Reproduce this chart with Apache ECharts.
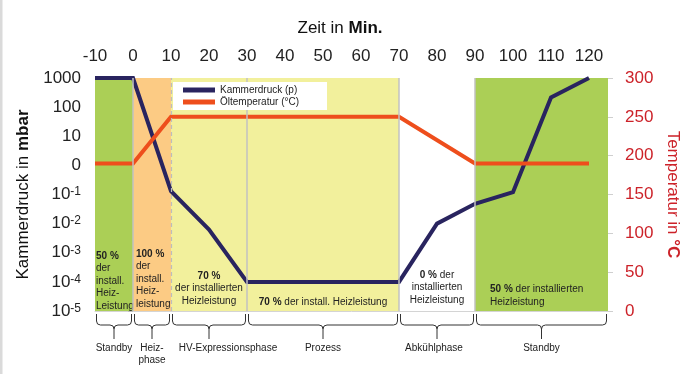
<!DOCTYPE html>
<html>
<head>
<meta charset="utf-8">
<script src="https://cdn.jsdelivr.net/npm/echarts@6/dist/echarts.min.js"></script>
<style>
  html, body { margin: 0; padding: 0; background: #fff; }
  #main { width: 680px; height: 374px; }
</style>
</head>
<body>
<div id="main"></div>
<script>
// Time axis (minutes) and the two measured curves
const pressureTime = [-10, 0, 10, 20, 30, 70, 80, 90, 100, 110, 120];
const pressureMbar = [1000, 1000, 0.13, 0.0063, 0.0001, 0.0001, 0.01, 0.048, 0.12, 215, 1000];
const tempTime = [-10, 0, 10, 70, 90, 120];
const tempC = [190, 190, 250, 250, 190, 190];

// Pressure axis tick labels, bottom to top ("^" marks the exponent)
const pressureTickLabels = ['10^-5', '10^-4', '10^-3', '10^-2', '10^-1', '0', '10', '100', '1000'];

// Process phases
const phaseStart = [-10, 0, 10, 30, 70, 90];
const phaseEnd = [0, 10, 30, 70, 90, 125];
const phaseNames = ['Standby', 'Heiz-\nphase', 'HV-Expressionsphase', 'Prozess', 'Abkühlphase', 'Standby'];
const phaseHeat = [
  '{p|50 %}\nder\ninstall.\nHeiz-\nLeistung',
  '{p|100 %}\nder\ninstall.\nHeiz-\nleistung',
  '{p|70 %}\nder installierten\nHeizleistung',
  '{p|70 %} der install. Heizleistung',
  '{p|0 %} der\ninstallierten\nHeizleistung',
  '{p|50 %} der installierten\nHeizleistung'
];

const FONT = 'Liberation Sans, Arial, Helvetica, sans-serif';
const NAVY = '#29245f';
const ORANGE = '#ee4e1c';
const RED = '#cc2229';
const GREEN = '#abcf56';
const PEACH = '#fccb84';
const YELLOW = '#f2f09c';

// Per-phase styling for the heat-share labels and the brace captions
const bandColors = [GREEN, PEACH, YELLOW, YELLOW, '#ffffff', GREEN];
const bandLabelStyle = [
  { position: 'insideBottomLeft', distance: 1, offset: [0, 2], align: 'left' },
  { position: 'insideBottomLeft', distance: 3, offset: [0, 2], align: 'left' },
  { position: 'insideBottom', distance: 4, offset: [0, 0], align: 'center' },
  { position: 'insideBottom', distance: 3, offset: [0, 0], align: 'center' },
  { position: 'insideBottom', distance: 5, offset: [0, 0], align: 'center' },
  { position: 'insideBottomLeft', distance: 3, offset: [12, 0], align: 'left' }
];
const captionShift = [0, 0, 19, 0, -3, 0];

const chart = echarts.init(document.getElementById('main'));

function pressureLabel(v) {
  const idx = Math.round(Math.log10(v)) + 5;
  const s = pressureTickLabels[idx];
  if (s === undefined) return '';
  const parts = s.split('^');
  return parts.length > 1 ? '{b|' + parts[0] + '}{s|' + parts[1] + '}' : '{b|' + parts[0] + '}';
}

function renderBrace(params, api) {
  const i = api.value(2);
  const a = api.coord([api.value(0), 0]);
  const b = api.coord([api.value(1), 0]);
  const x1 = a[0] + 1.5, x2 = b[0] - 1.5, xc = (x1 + x2) / 2;
  const base = a[1];
  const yTop = base + 3, yMid = base + 14, yBot = base + 28, r = 4;
  const d = [
    'M', x1, yTop, 'L', x1, yMid - r, 'Q', x1, yMid, x1 + r, yMid,
    'L', xc - r, yMid, 'Q', xc, yMid, xc, yMid + r, 'L', xc, yBot,
    'M', xc, yMid + r, 'Q', xc, yMid, xc + r, yMid,
    'L', x2 - r, yMid, 'Q', x2, yMid, x2, yMid - r, 'L', x2, yTop
  ].join(' ');
  return {
    type: 'group',
    children: [
      { type: 'path', shape: { pathData: d }, style: { fill: 'none', stroke: '#333', lineWidth: 1 } },
      {
        type: 'text', x: xc + captionShift[i], y: base + 31,
        style: {
          text: phaseNames[i], fontSize: 10, fontFamily: FONT, fill: '#222',
          align: 'center', verticalAlign: 'top', lineHeight: 12
        }
      }
    ]
  };
}

const bandData = phaseStart.map((s, i) => [
  {
    xAxis: s,
    name: phaseHeat[i],
    itemStyle: { color: bandColors[i], opacity: 1 },
    label: {
      show: true,
      position: bandLabelStyle[i].position,
      distance: bandLabelStyle[i].distance,
      offset: bandLabelStyle[i].offset,
      align: bandLabelStyle[i].align,
      fontSize: 10, fontFamily: FONT, color: '#222', lineHeight: 12.4,
      rich: { p: { fontSize: 10, fontWeight: 'bold', fontFamily: FONT, color: '#222', lineHeight: 12.4 } }
    }
  },
  { xAxis: phaseEnd[i] }
]);

chart.setOption({
  animation: false,
  textStyle: { fontFamily: FONT },
  title: {
    text: '{n|Zeit in }{b|Min.}',
    left: 'center', top: 15,
    textStyle: {
      fontWeight: 'normal',
      rich: {
        n: { fontSize: 17, fontFamily: FONT, color: '#111', fontWeight: 'normal' },
        b: { fontSize: 17, fontFamily: FONT, color: '#111', fontWeight: 'bold' }
      }
    }
  },
  graphic: [
    { type: 'rect', left: 0, top: 0, shape: { width: 2.5, height: 374 }, style: { fill: '#dadada' }, silent: true }
  ],
  legend: {
    data: ['Kammerdruck (p)', 'Öltemperatur (°C)'],
    orient: 'vertical', left: 173, top: 82, z: 20,
    backgroundColor: '#ffffff',
    padding: [2, 28, 2, 10],
    itemWidth: 32, itemHeight: 5, itemGap: 0, icon: 'rect',
    textStyle: { fontSize: 10, fontFamily: FONT, color: '#222', lineHeight: 12 }
  },
  grid: { left: 95, right: 72, top: 78, bottom: 63, containLabel: false, outerBoundsMode: 'none' },
  xAxis: {
    type: 'value', position: 'top', min: -10, max: 125, interval: 10,
    axisLine: { show: true, lineStyle: { color: '#d4d4d4', width: 1 } },
    axisTick: { show: true, length: 4, lineStyle: { color: '#c8c8c8' } },
    axisLabel: { fontSize: 17, color: '#222', margin: 13, fontFamily: FONT },
    splitLine: { show: false }
  },
  yAxis: [
    {
      type: 'log', logBase: 10, min: 0.00001, max: 1000, splitNumber: 8,
      name: '{n|Kammerdruck in }{b|mbar}',
      nameLocation: 'middle', nameGap: 62, nameRotate: 90,
      nameTextStyle: {
        rich: {
          n: { fontSize: 17, fontFamily: FONT, color: '#111' },
          b: { fontSize: 17, fontFamily: FONT, color: '#111', fontWeight: 'bold' }
        }
      },
      axisLine: { show: false },
      axisTick: { show: true, length: 5, lineStyle: { color: '#bdbdbd' } },
      axisLabel: {
        margin: 14, formatter: pressureLabel,
        rich: {
          b: { fontSize: 17, fontFamily: FONT, color: '#222' },
          s: { fontSize: 12, fontFamily: FONT, color: '#222', verticalAlign: 'top' }
        }
      },
      splitLine: { show: false },
      minorTick: { show: false }
    },
    {
      type: 'value', min: 0, max: 300, interval: 50, position: 'right',
      name: '{n|Temperatur in }{b|°C}',
      nameLocation: 'middle', nameGap: 55, nameRotate: -90,
      nameTextStyle: {
        rich: {
          n: { fontSize: 17, fontFamily: FONT, color: RED },
          b: { fontSize: 17, fontFamily: FONT, color: RED, fontWeight: 'bold' }
        }
      },
      axisLine: { show: false },
      axisTick: { show: true, length: 5, lineStyle: { color: '#cfcfcf' } },
      axisLabel: { fontSize: 17, color: RED, margin: 17, fontFamily: FONT },
      splitLine: { show: false }
    }
  ],
  series: [
    {
      name: 'phases', type: 'line', data: [], yAxisIndex: 0, z: 1, silent: true,
      markArea: { silent: true, data: bandData },
      markLine: {
        silent: true, symbol: 'none',
        label: { show: false },
        lineStyle: { color: '#c2c2c2', width: 1.5, type: 'solid' },
        data: [
          { xAxis: 0 },
          { xAxis: 10, lineStyle: { type: [4, 3], color: '#bdbdbd', width: 1.2 } },
          { xAxis: 30 },
          { xAxis: 70 },
          { xAxis: 90 },
          { yAxis: 0.00001, lineStyle: { color: '#cfcfcf', width: 1 } }
        ]
      }
    },
    {
      name: 'Kammerdruck (p)', type: 'line', yAxisIndex: 0, z: 3,
      data: pressureTime.map((t, i) => [t, pressureMbar[i]]),
      showSymbol: false, color: NAVY,
      lineStyle: { color: NAVY, width: 4, join: 'miter' }
    },
    {
      name: 'Öltemperatur (°C)', type: 'line', yAxisIndex: 1, z: 4,
      data: tempTime.map((t, i) => [t, tempC[i]]),
      showSymbol: false, color: ORANGE,
      lineStyle: { color: ORANGE, width: 4, join: 'miter' }
    },
    {
      name: 'braces', type: 'custom', yAxisIndex: 1, z: 2, clip: false, silent: true,
      renderItem: renderBrace,
      encode: { x: [0, 1], y: 3 },
      data: phaseStart.map((s, i) => [s, phaseEnd[i], i, 0])
    }
  ]
});
</script>
</body>
</html>
